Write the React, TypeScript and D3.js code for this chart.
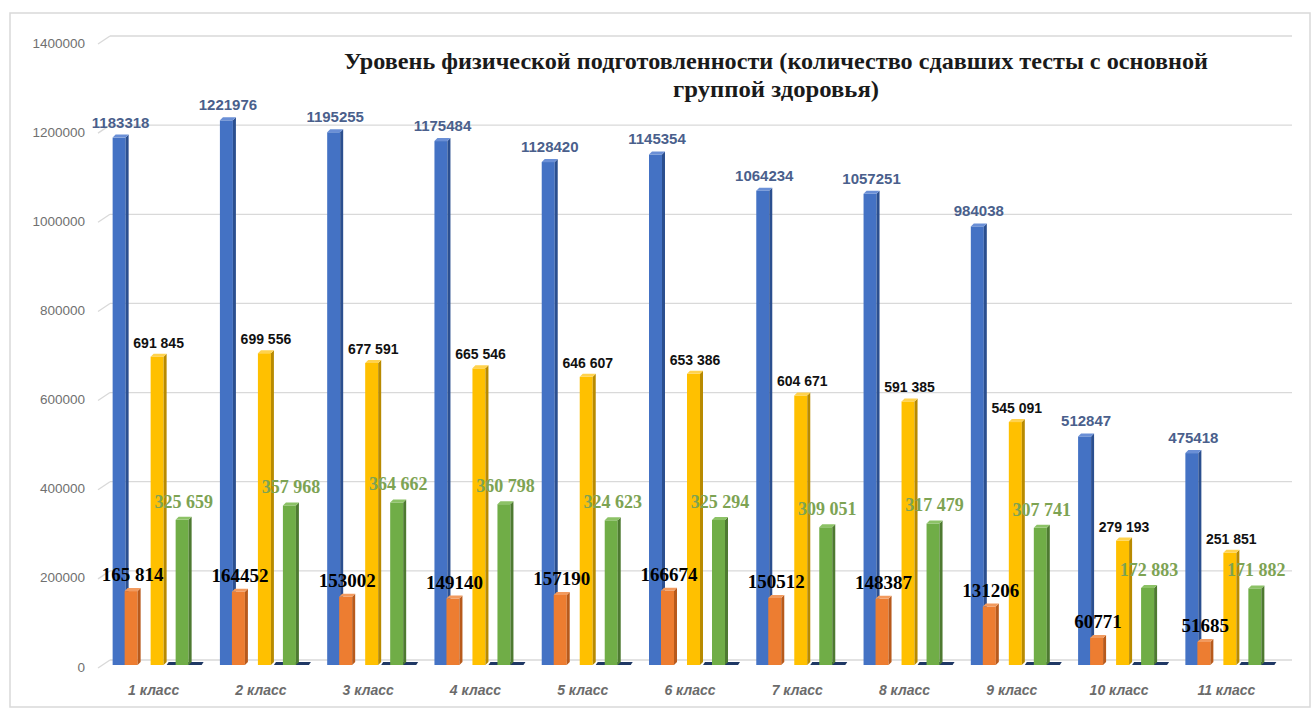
import React from "react";
import * as d3 from "d3";

const categories = ["1 класс", "2 класс", "3 класс", "4 класс", "5 класс", "6 класс", "7 класс", "8 класс", "9 класс", "10 класс", "11 класс"];
const blueValues = [1183318, 1221976, 1195255, 1175484, 1128420, 1145354, 1064234, 1057251, 984038, 512847, 475418];
const orangeValues = [165814, 164452, 153002, 149140, 157190, 166674, 150512, 148387, 131206, 60771, 51685];
const orangeLabels = ["165 814", "164452", "153002", "149140", "157190", "166674", "150512", "148387", "131206", "60771", "51685"];
const yellowValues = [691845, 699556, 677591, 665546, 646607, 653386, 604671, 591385, 545091, 279193, 251851];
const greenValues = [325659, 357968, 364662, 360798, 324623, 325294, 309051, 317479, 307741, 172883, 171882];
const yTicks = [0, 200000, 400000, 600000, 800000, 1000000, 1200000, 1400000];
const titleLines = ["Уровень физической подготовленности (количество сдавших тесты с основной", "группой здоровья)"];
const titleWidths = [864, 206];

const W = 1313, H = 709;
const BASE = 665, TOP = 41;
const FACE = 13, DX = 3, DY = 3;

const spaceFmt = (v: number) => d3.format(",")(v).replace(/,/g, " ");

type Series = { key: string; values: number[]; front: string; side: string; top: string; offset: number };

export default function App() {
  const x = d3.scaleBand<string>().domain(categories).range([100, 1280]).padding(0);
  const y = d3.scaleLinear().domain([0, 1400000]).range([BASE, TOP]);
  const center = (c: string) => (x(c) ?? 0) + x.bandwidth() / 2;

  const series: Series[] = [
    { key: "blue", values: blueValues, front: "#4472C4", side: "#2B4F8F", top: "#6A8FD6", offset: -41 },
    { key: "orange", values: orangeValues, front: "#ED7D31", side: "#B85A1C", top: "#F29A5E", offset: -29 },
    { key: "yellow", values: yellowValues, front: "#FFC000", side: "#B88A00", top: "#FFD24D", offset: -3 },
    { key: "green", values: greenValues, front: "#70AD47", side: "#4E7A31", top: "#8CC266", offset: 22 },
  ];

  const bar = (s: Series, i: number) => {
    const c = categories[i];
    const x0 = center(c) + s.offset;
    const yt = y(s.values[i]);
    const x1 = x0 + FACE;
    return (
      <g key={s.key + i}>
        <rect x={x0} y={yt} width={FACE} height={BASE - yt} fill={s.front} />
        <polygon points={`${x1},${yt} ${x1 + DX},${yt - DY} ${x1 + DX},${BASE - DY} ${x1},${BASE}`} fill={s.side} />
        <polygon points={`${x0},${yt} ${x0 + DX},${yt - DY} ${x1 + DX},${yt - DY} ${x1},${yt}`} fill={s.top} />
      </g>
    );
  };

  const floor = (i: number) => {
    const c = categories[i];
    const xs = center(c) + series[2].offset + FACE + DX;
    const xe = center(c) + series[3].offset + FACE + DX + 10;
    return <polygon key={"f" + i} points={`${xs},${BASE} ${xs + 2},${BASE - 3} ${xe + 2},${BASE - 3} ${xe},${BASE}`} fill="#1F3864" />;
  };

  return (
    <svg width={W} height={H} style={{ position: "absolute", left: 0, top: 0, background: "#fff" }}>
      <rect x={10} y={13} width={1300} height={694} fill="#fff" stroke="#D9D9D9" strokeWidth={1.5} />
      {yTicks.map((t) => {
        const yy = y(t);
        return (
          <g key={t}>
            <line x1={98} y1={yy + 3} x2={110} y2={yy - 5} stroke="#D9D9D9" strokeWidth={1.3} />
            <line x1={110} y1={yy - 5} x2={1292} y2={yy - 5} stroke="#D9D9D9" strokeWidth={1.3} />
            <text x={85} y={yy + 3} textAnchor="end" dominantBaseline="middle" fontFamily="'Liberation Sans', Arial, sans-serif" fontSize={13.5} fill="#707070">{t}</text>
          </g>
        );
      })}
      {titleLines.map((l, k) => (
        <text key={k} x={776} y={69 + k * 28} textAnchor="middle" textLength={titleWidths[k]} lengthAdjust="spacingAndGlyphs" fontFamily="'Liberation Serif', 'Times New Roman', serif" fontWeight="bold" fontSize={23} fill="#1a1a1a">{l}</text>
      ))}
      {categories.map((c, i) => (
        <g key={c}>
          {bar(series[0], i)}
          {bar(series[1], i)}
          {bar(series[2], i)}
          {floor(i)}
          {bar(series[3], i)}
        </g>
      ))}
      {categories.map((c, i) => {
        const cx = (s: Series) => center(c) + s.offset + (FACE + DX) / 2;
        return (
          <g key={"l" + c}>
            <text x={cx(series[0])} y={y(blueValues[i]) - 10} textAnchor="middle" fontFamily="'Liberation Sans', Arial, sans-serif" fontWeight="bold" fontSize={15} fill="#4A5F8C">{d3.format("d")(blueValues[i])}</text>
            <text x={cx(series[2])} y={y(yellowValues[i]) - 9} textAnchor="middle" fontFamily="'Liberation Sans', Arial, sans-serif" fontWeight="bold" fontSize={14} fill="#111">{spaceFmt(yellowValues[i])}</text>
            <text x={cx(series[3])} y={y(greenValues[i]) - 12} textAnchor="middle" fontFamily="'Liberation Serif', 'Times New Roman', serif" fontWeight="bold" fontSize={18} fill="#7DA353">{spaceFmt(greenValues[i])}</text>
            <text x={cx(series[1])} y={y(orangeValues[i]) - 10} textAnchor="middle" fontFamily="'Liberation Serif', 'Times New Roman', serif" fontWeight="bold" fontSize={19} fill="#000">{orangeLabels[i]}</text>
            <text x={center(c)} y={695} textAnchor="middle" fontFamily="'Liberation Sans', Arial, sans-serif" fontStyle="italic" fontWeight="bold" fontSize={14} fill="#6B6B6B">{c}</text>
          </g>
        );
      })}
    </svg>
  );
}
